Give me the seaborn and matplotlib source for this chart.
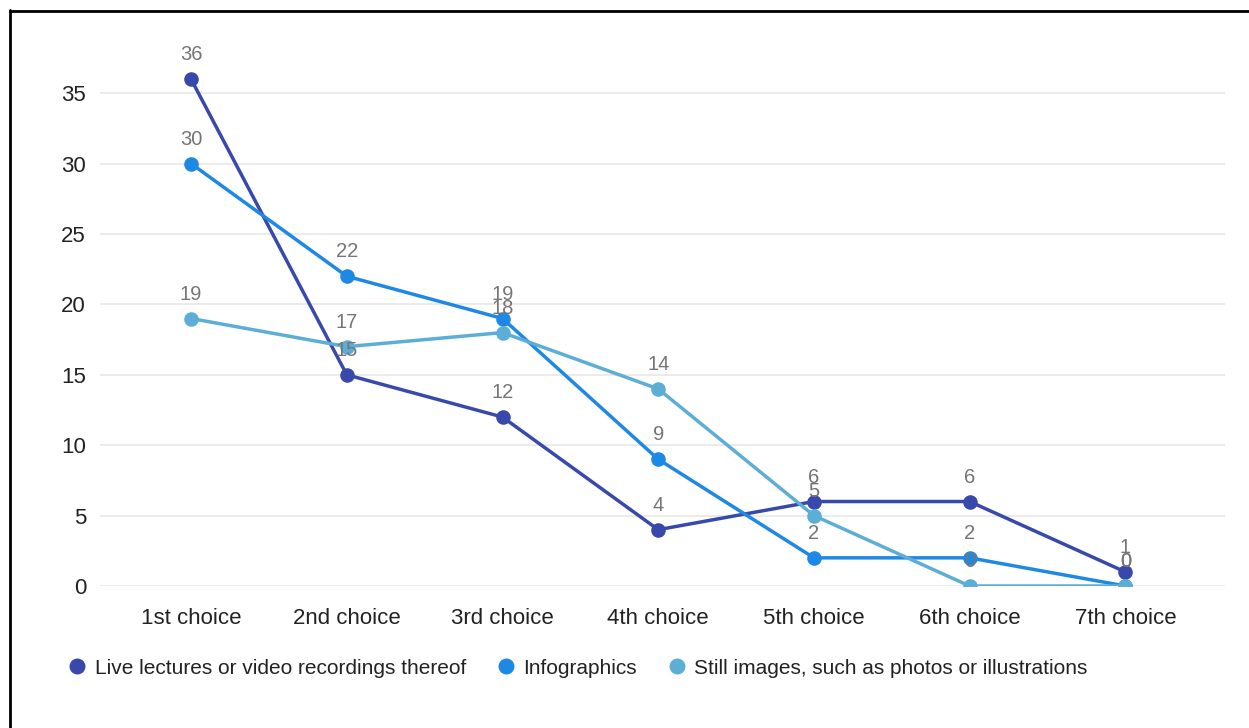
import numpy as np
import pandas as pd
import matplotlib
matplotlib.use("Agg")
import matplotlib.pyplot as plt
from matplotlib.lines import Line2D
import seaborn as sns

categories = ["1st choice", "2nd choice", "3rd choice", "4th choice",
              "5th choice", "6th choice", "7th choice"]
live_lectures = [36, 15, 12, 4, 6, 6, 1]
infographics = [30, 22, 19, 9, 2, 2, 0]
still_images = [19, 17, 18, 14, 5, 0, 0]
series_names = ["Live lectures or video recordings thereof",
                "Infographics",
                "Still images, such as photos or illustrations"]
colors = ["#3949AB", "#1E88E5", "#5DAED6"]
y_ticks = [0, 5, 10, 15, 20, 25, 30, 35]

sns.set_theme(style="white")
plt.rcParams["font.family"] = ["Liberation Sans", "DejaVu Sans"]

rows = []
for name, vals in zip(series_names, [live_lectures, infographics, still_images]):
    for i, v in enumerate(vals):
        rows.append({"pos": i, "value": v, "series": name})
df = pd.DataFrame(rows)

fig = plt.figure(figsize=(12.49, 7.28), dpi=100)
W, H = 1249, 728
# axes: x from 100px to 1225px, y=0 at 586px, y=38 at ~51px
ax = fig.add_axes([100 / W, (H - 586) / H, 1125 / W, (586 - 51) / H])

sns.lineplot(data=df, x="pos", y="value", hue="series", hue_order=series_names,
             palette=colors, marker="o", markersize=10.5, markeredgewidth=0,
             linewidth=2.5, ax=ax, legend=False, zorder=3)

for name, vals, c in zip(series_names, [live_lectures, infographics, still_images], colors):
    for i, v in enumerate(vals):
        ax.annotate(str(v), (i, v), xytext=(0, 17.5), textcoords="offset points",
                    ha="center", va="center", fontsize=14.5, color="#757575",
                    zorder=5)

ax.set_xlim(-0.585, 6.64)
ax.set_ylim(0, 38)
ax.set_yticks(y_ticks)
ax.set_xticks(range(len(categories)))
ax.set_xticklabels(categories)
ax.tick_params(axis="both", labelsize=16, colors="#222222", length=0)
ax.tick_params(axis="x", pad=16)
ax.tick_params(axis="y", pad=10)
ax.grid(axis="y", color="#E8E8E8", linewidth=1.2)
ax.set_axisbelow(True)
for s in ax.spines.values():
    s.set_visible(False)
ax.set_xlabel("")
ax.set_ylabel("")

handles = [Line2D([], [], linestyle="none", marker="o", markersize=11.5,
                  markerfacecolor=c, markeredgewidth=0) for c in colors]
fig.legend(handles, series_names, loc="center left",
           bbox_to_anchor=(46 / W, (H - 668) / H), ncol=3, frameon=False,
           fontsize=15, handletextpad=0.25, columnspacing=1.3,
           labelcolor="#222222", handlelength=1.2)

# frame lines along the left and top edges
fig.add_artist(Line2D([9.5 / W, 9.5 / W], [0, (H - 10) / H], color="black",
                      linewidth=2, transform=fig.transFigure))
fig.add_artist(Line2D([9.5 / W, 1], [(H - 10.5) / H, (H - 10.5) / H], color="black",
                      linewidth=2, transform=fig.transFigure))

fig.savefig("out.png", dpi=100, facecolor="white")
